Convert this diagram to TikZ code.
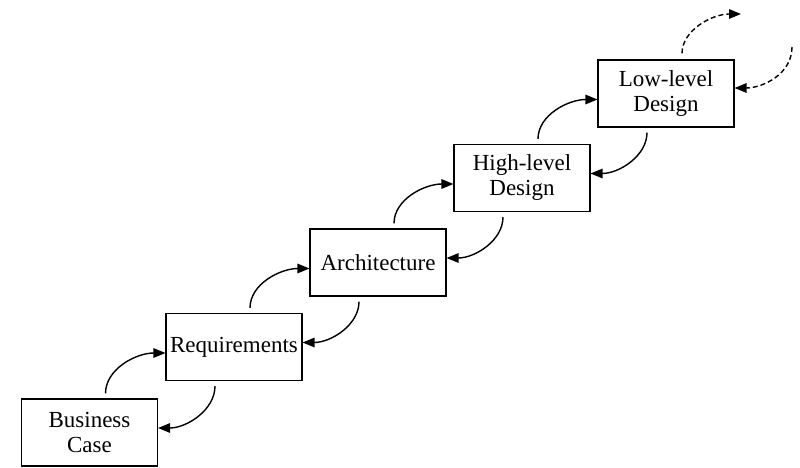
\documentclass[tikz,border=0pt]{standalone}
\usepackage{fontspec}
\setmainfont{Liberation Serif}
\usetikzlibrary{arrows.meta}

\begin{document}
\begin{tikzpicture}[x=1pt,y=1pt,
  every node/.style={font=\fontsize{23}{25}\selectfont},
  phase/.style={shape=rectangle, draw, line width=1.1pt, minimum width=136pt, minimum height=67pt, align=center, inner sep=0pt},
  flow/.style={line width=1.4pt, -{Triangle[length=12pt,width=9.5pt]}},
  later/.style={flow, dash pattern=on 5pt off 3pt}]
%[inner sep=1mm]
\useasboundingbox (0,0) rectangle (800,467);

\path (89.5,34.5) node (Bc) [phase] {Business\\Case};
\path (234,120) node (Req) [phase] {Requirements};
\path (378,204.5) node (Arch) [phase] {Architecture};
\path (522,289) node (Hld) [phase] {High-level\\Design};
\path (666,373.5) node (Lld) [phase] {Low-level\\Design};
\coordinate (next) at (741,453);
\coordinate (back) at (792,420);

\draw [flow, shorten <=5pt] ([xshift=16pt]Bc.north) to[out=90,in=180] ([yshift=-6pt]Req.west);
\draw [flow, shorten <=5pt] ([xshift=16pt]Req.north) to[out=90,in=180] ([yshift=-6pt]Arch.west);
\draw [flow, shorten <=5pt] ([xshift=16pt]Arch.north) to[out=90,in=180] ([yshift=-6pt]Hld.west);
\draw [flow, shorten <=5pt] ([xshift=16pt]Hld.north) to[out=90,in=180] ([yshift=-6pt]Lld.west);
\draw [later, shorten <=6pt] ([xshift=16pt]Lld.north) to[out=90,in=180] (next);

\draw [flow, shorten <=5pt] ([xshift=-19pt]Req.south) to[out=-90,in=0] ([yshift=4.5pt]Bc.east);
\draw [flow, shorten <=5pt] ([xshift=-19pt]Arch.south) to[out=-90,in=0] ([yshift=4.5pt]Req.east);
\draw [flow, shorten <=5pt] ([xshift=-19pt]Hld.south) to[out=-90,in=0] ([yshift=4.5pt]Arch.east);
\draw [flow, shorten <=5pt] ([xshift=-19pt]Lld.south) to[out=-90,in=0] ([yshift=4.5pt]Hld.east);
\draw [later] (back) to[out=-90,in=0] ([yshift=5.5pt]Lld.east);

\end{tikzpicture}
\end{document}
